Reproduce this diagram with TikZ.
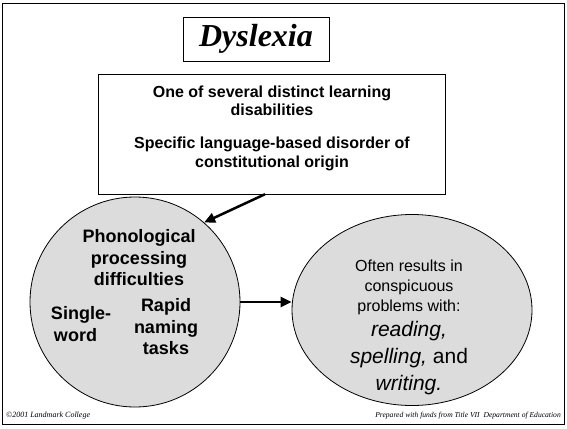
\documentclass[tikz,border=0pt]{standalone}
\usepackage{fontspec}
\setmainfont{Liberation Serif}
\setsansfont{Liberation Sans}
\usepackage{xcolor}
\usetikzlibrary{shapes,arrows.meta,positioning,calc}
\definecolor{stipple}{RGB}{220,220,220}

\begin{document}
\begin{tikzpicture}[
x=1pt, y=-1pt,
box/.style={draw, fill=white, align=center, inner sep=0pt},
blob/.style={draw, thick, fill=stipple, inner sep=0pt},
txt/.style={align=center, font=\sffamily\bfseries, inner sep=0pt},
plain/.style={align=center, font=\sffamily, inner sep=0pt},
arrow/.style={-{Triangle[length=11pt,width=10pt]}, line width=2.5pt}
]
\useasboundingbox (0,0) rectangle (567,428);
\draw[thick] (2,3) rectangle (564,424);
\node[box, minimum width=146pt, minimum height=44pt] (title) at (256,39)
  {\fontsize{32}{34}\selectfont\bfseries\itshape Dyslexia};
\node[box, minimum width=347pt, minimum height=120pt] (defn) at (272,134) {};
\node[txt, font=\sffamily\bfseries\fontsize{16}{18.5}\selectfont] (learn) at (272,101)
  {One of several distinct learning\\disabilities};
\node[txt, font=\sffamily\bfseries\fontsize{16}{18.5}\selectfont] (origin) at (272,154)
  {Specific language-based disorder of\\constitutional origin};
% left circle
\node[blob, circle, minimum size=210pt] (phono) at (135,302) {};
\node[txt, font=\sffamily\bfseries\fontsize{18}{21.5}\selectfont] (proc) at (139,258)
  {Phonological\\processing\\difficulties};
\node[txt, align=left, font=\sffamily\bfseries\fontsize{18}{21.5}\selectfont] (single) at (81,324) {Single-\\\,word};
\node[txt, font=\sffamily\bfseries\fontsize{18}{21.5}\selectfont] (rapid) at (166,327) {Rapid\\naming\\tasks};
% right ellipse
\node[blob, ellipse, minimum width=240pt, minimum height=191pt] (result) at (412,310) {};
\node[plain, font=\sffamily\fontsize{16}{20}\selectfont] (often) at (409,287)
  {Often results in\\conspicuous\\problems with:};
\node[plain, font=\sffamily\fontsize{21}{27}\selectfont, below=6pt of often] (skills)
  {\itshape reading,\\\itshape spelling,\upshape{} and\\\itshape writing.};
\draw[arrow] ($(defn.south)+(-7,0)$) coordinate (from) -- (phono.49);
\draw[arrow] (phono.east) -- (result.west |- phono.east);
% footer
\node[anchor=west, inner sep=0pt, font=\itshape\fontsize{8}{9}\selectfont] (copy) at (6,416) {\textcopyright2001 Landmark College};
\node[anchor=east, inner sep=0pt, font=\itshape\fontsize{7.6}{9}\selectfont] (funds) at (561,416) {Prepared with funds from Title VII\ \ Department of Education};
\end{tikzpicture}
\end{document}
